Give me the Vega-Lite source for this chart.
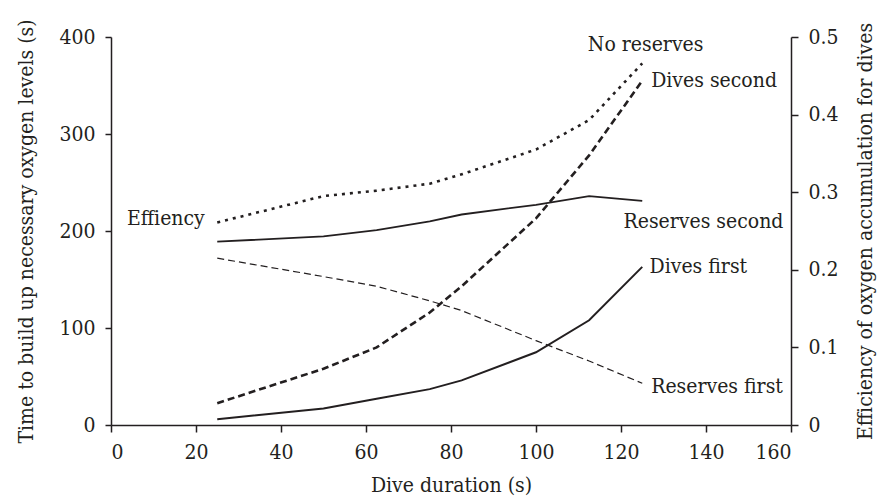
{
  "$schema": "https://vega.github.io/schema/vega-lite/v6.json",
  "width": 680,
  "height": 388,
  "autosize": {"type": "none"},
  "padding": {"left": 111, "top": 37, "right": 88, "bottom": 77},
  "background": "white",
  "config": {
    "view": {"stroke": null},
    "font": "DejaVu Serif Condensed",
    "axis": {
      "grid": false,
      "domainColor": "#231f20",
      "domainWidth": 1.5,
      "tickColor": "#231f20",
      "tickWidth": 1.5,
      "tickSize": 7,
      "labelFont": "DejaVu Serif Condensed",
      "labelFontSize": 21,
      "labelColor": "#231f20",
      "titleFont": "DejaVu Serif Condensed",
      "titleFontSize": 21,
      "titleFontWeight": "normal",
      "titleColor": "#231f20"
    }
  },
  "datasets": {
    "time": [
      {"series": "Dives first", "duration": 25, "time": 6},
      {"series": "Dives first", "duration": 50, "time": 17},
      {"series": "Dives first", "duration": 62.5, "time": 27},
      {"series": "Dives first", "duration": 75, "time": 37},
      {"series": "Dives first", "duration": 82.5, "time": 46},
      {"series": "Dives first", "duration": 100, "time": 75},
      {"series": "Dives first", "duration": 112.5, "time": 108},
      {"series": "Dives first", "duration": 125, "time": 163},
      {"series": "Dives second", "duration": 25, "time": 22.5},
      {"series": "Dives second", "duration": 50, "time": 58},
      {"series": "Dives second", "duration": 62.5, "time": 80},
      {"series": "Dives second", "duration": 75, "time": 116},
      {"series": "Dives second", "duration": 82.5, "time": 143},
      {"series": "Dives second", "duration": 100, "time": 213},
      {"series": "Dives second", "duration": 112.5, "time": 278},
      {"series": "Dives second", "duration": 125, "time": 355},
      {"series": "Reserves first", "duration": 25, "time": 172},
      {"series": "Reserves first", "duration": 50, "time": 153},
      {"series": "Reserves first", "duration": 62.5, "time": 143},
      {"series": "Reserves first", "duration": 75, "time": 128},
      {"series": "Reserves first", "duration": 82.5, "time": 118},
      {"series": "Reserves first", "duration": 100, "time": 87},
      {"series": "Reserves first", "duration": 112.5, "time": 66},
      {"series": "Reserves first", "duration": 125, "time": 43},
      {"series": "Reserves second", "duration": 25, "time": 189},
      {"series": "Reserves second", "duration": 50, "time": 194.5},
      {"series": "Reserves second", "duration": 62.5, "time": 201},
      {"series": "Reserves second", "duration": 75, "time": 210},
      {"series": "Reserves second", "duration": 82.5, "time": 217},
      {"series": "Reserves second", "duration": 100, "time": 227},
      {"series": "Reserves second", "duration": 112.5, "time": 236},
      {"series": "Reserves second", "duration": 125, "time": 231}
    ],
    "eff": [
      {"series": "No reserves", "duration": 25, "efficiency": 0.261},
      {"series": "No reserves", "duration": 50, "efficiency": 0.295},
      {"series": "No reserves", "duration": 62.5, "efficiency": 0.302},
      {"series": "No reserves", "duration": 75, "efficiency": 0.311},
      {"series": "No reserves", "duration": 82.5, "efficiency": 0.323},
      {"series": "No reserves", "duration": 100, "efficiency": 0.355},
      {"series": "No reserves", "duration": 112.5, "efficiency": 0.393},
      {"series": "No reserves", "duration": 125, "efficiency": 0.466}
    ],
    "labels": [
      {"label": "Effiency", "duration": 12.9, "time": 212},
      {"label": "No reserves", "duration": 125.8, "time": 391.6},
      {"label": "Dives second", "duration": 141.9, "time": 354.5},
      {"label": "Reserves second", "duration": 139.4, "time": 209},
      {"label": "Dives first", "duration": 138.2, "time": 163},
      {"label": "Reserves first", "duration": 142.6, "time": 39}
    ]
  },
  "layer": [
    {
      "data": {"name": "time"},
      "encoding": {
        "x": {
          "field": "duration", "type": "quantitative",
          "scale": {"domain": [0, 160], "nice": false, "zero": false},
          "axis": {
            "title": "Dive duration (s)",
            "values": [0, 20, 40, 60, 80, 100, 120, 140, 160],
            "labelPadding": 9,
            "titleBaseline": "alphabetic",
            "titleY": 66,
            "titleX": 340
          }
        },
        "y": {
          "field": "time", "type": "quantitative",
          "scale": {"domain": [0, 400], "nice": false},
          "axis": {
            "title": "Time to build up necessary oxygen levels (s)",
            "values": [0, 100, 200, 300, 400],
            "tickSize": 6,
            "labelPadding": 10,
            "titleBaseline": "middle",
            "titleX": -85,
            "titleY": 194
          }
        }
      },
      "layer": [
        {
          "transform": [{"filter": "datum.series === 'Dives first'"}],
          "mark": {"type": "line", "color": "#231f20", "strokeWidth": 2}
        },
        {
          "transform": [{"filter": "datum.series === 'Reserves second'"}],
          "mark": {"type": "line", "color": "#231f20", "strokeWidth": 1.8}
        },
        {
          "transform": [{"filter": "datum.series === 'Dives second'"}],
          "mark": {"type": "line", "color": "#231f20", "strokeWidth": 2.6, "strokeDash": [7, 4], "strokeCap": "butt"}
        },
        {
          "transform": [{"filter": "datum.series === 'Reserves first'"}],
          "mark": {"type": "line", "color": "#231f20", "strokeWidth": 1.2, "strokeDash": [7, 4], "strokeCap": "butt"}
        },
        {
          "data": {"name": "labels"},
          "mark": {
            "type": "text", "fontSize": 21,
            "font": "DejaVu Serif Condensed",
            "color": "#231f20", "align": "center", "baseline": "middle"
          },
          "encoding": {
            "text": {"field": "label"}
          }
        }
      ]
    },
    {
      "data": {"name": "eff"},
      "mark": {
        "type": "line", "color": "#231f20", "strokeWidth": 2.6,
        "strokeDash": [3, 5], "strokeCap": "butt"
      },
      "encoding": {
        "x": {"field": "duration", "type": "quantitative"},
        "y": {
          "field": "efficiency", "type": "quantitative",
          "scale": {"domain": [0, 0.5], "nice": false},
          "axis": {
            "orient": "right",
            "title": "Efficiency of oxygen accumulation for dives",
            "values": [0, 0.1, 0.2, 0.3, 0.4, 0.5],
            "format": ".1~f",
            "labelPadding": 10,
            "titleAngle": -90,
            "titleBaseline": "middle",
            "titleX": 74,
            "titleY": 194
          }
        }
      }
    }
  ],
  "resolve": {"scale": {"y": "independent"}}
}
